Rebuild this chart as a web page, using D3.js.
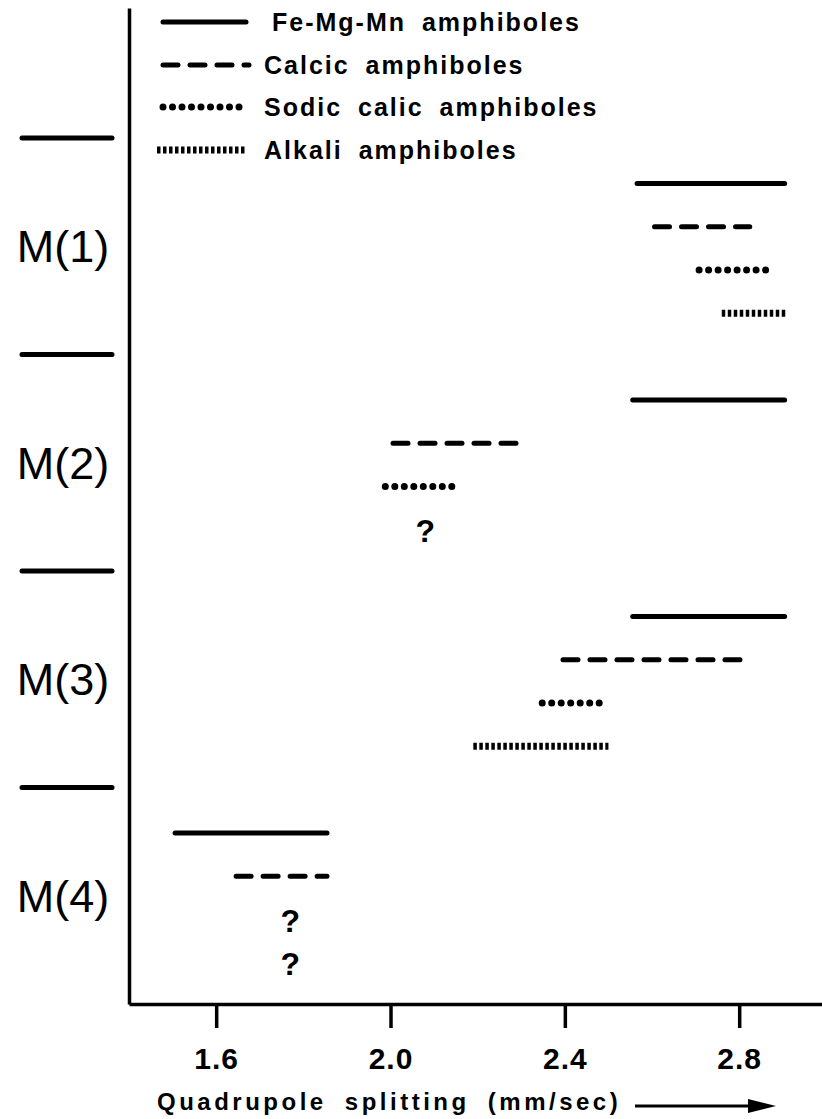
<!DOCTYPE html>
<html lang="en">
  <head>
    <meta charset="utf-8">
    <title>Amphibole quadrupole splitting</title>
    <script src="https://cdn.jsdelivr.net/npm/d3@7"></script>
    <style>
      body { margin: 0; background: #fff; }
      svg { display: block; background: #fff; }
      .axis path, .axis line { stroke: #000; stroke-width: 3.5; }
      .axis text { font-family: "Liberation Sans", Arial, sans-serif; font-weight: bold; font-size: 30px; fill: #000; letter-spacing: 1px; }
      .solid { stroke: #000; stroke-width: 5; stroke-linecap: round; fill: none; }
      .dashed { stroke: #000; stroke-width: 5; stroke-linecap: round; stroke-dasharray: 15 12; fill: none; }
      .dotted { stroke: #000; stroke-width: 7; stroke-linecap: round; stroke-dasharray: 0 9.5; fill: none; }
      .barred { stroke: #000; stroke-width: 7; stroke-linecap: butt; stroke-dasharray: 3.5 2.5; fill: none; }
      .legend text { font-family: "Liberation Sans", Arial, sans-serif; font-weight: bold; font-size: 25px; letter-spacing: 2px; word-spacing: 7px; }
      .site { font-family: "Liberation Sans", Arial, sans-serif; font-size: 45px; }
      .unknown { font-family: "Liberation Sans", Arial, sans-serif; font-weight: bold; font-size: 32px; }
    </style>
  </head>
  <body>
    <script>
      // sites and amphibole groups
      var sites = ["M(1)", "M(2)", "M(3)", "M(4)"];
      var groups = ["Fe-Mg-Mn amphiboles", "Calcic amphiboles", "Sodic calic amphiboles", "Alkali amphiboles"];
      var groupStyle = ["solid", "dashed", "dotted", "barred"];

      // quadrupole splitting ranges (mm/sec) per site, null = not known
      var feMgMn = [[2.56, 2.91], [2.55, 2.91], [2.55, 2.91], [1.50, 1.86]];
      var calcic = [[2.60, 2.83], [2.00, 2.30], [2.39, 2.82], [1.64, 1.86]];
      var sodicCalcic = [[2.70, 2.87], [1.98, 2.15], [2.34, 2.49], null];
      var alkali = [[2.76, 2.91], null, [2.19, 2.50], null];

      // question marks: [site, group, splitting]
      var unknowns = [[1, 3, 2.08], [3, 2, 1.77], [3, 3, 1.77]];

      var xTicks = [1.6, 2.0, 2.4, 2.8];

      var w = 822, h = 1119;

      var xScale = d3.scaleLinear()
                     .domain([1.4, 2.99])
                     .range([129, 822]);
      // y in "site units": site i spans [i, i+1]
      var yScale = d3.scaleLinear()
                     .domain([-0.6, 4])
                     .range([8, 1004]);
      var rowPos = function (site, g) { return site + 0.21 + 0.2 * g; };

      var svg = d3.select("body")
                  .append("svg")
                  .attr("width", w)
                  .attr("height", h);

      // axes
      var xAxis = d3.axisBottom(xScale)
                    .tickValues(xTicks)
                    .tickFormat(d3.format(".1f"))
                    .tickSize(24)
                    .tickSizeOuter(0)
                    .tickPadding(20);
      svg.append("g")
         .attr("class", "axis")
         .attr("transform", "translate(0," + yScale(4) + ")")
         .call(xAxis);

      var yAxis = d3.axisLeft(yScale)
                    .tickValues([])
                    .tickSizeOuter(0);
      svg.append("g")
         .attr("class", "axis")
         .attr("transform", "translate(" + xScale(1.4) + ",0)")
         .call(yAxis);

      // site separators and labels
      svg.selectAll(".sep")
         .data(d3.range(sites.length))
         .enter()
         .append("line")
         .attr("class", "solid sep")
         .attr("stroke-width", 3.5)
         .attr("x1", 22)
         .attr("x2", 112)
         .attr("y1", function (d) { return yScale(d); })
         .attr("y2", function (d) { return yScale(d); });

      svg.selectAll(".site")
         .data(sites)
         .enter()
         .append("text")
         .attr("class", "site")
         .attr("text-anchor", "middle")
         .attr("x", 63)
         .attr("y", function (d, i) { return yScale(i + 0.5) + 16; })
         .text(function (d) { return d; });

      // range segments
      var series = [feMgMn, calcic, sodicCalcic, alkali];
      var segs = [];
      series.forEach(function (s, g) {
        s.forEach(function (r, i) {
          if (r) segs.push({ g: g, site: i, lo: r[0], hi: r[1] });
        });
      });

      svg.selectAll(".seg")
         .data(segs)
         .enter()
         .append("line")
         .attr("class", function (d) { return "seg " + groupStyle[d.g]; })
         .attr("x1", function (d) { return xScale(d.lo) + (d.g == 2 ? 3.5 : d.g == 3 ? 0 : 2.5); })
         .attr("x2", function (d) { return xScale(d.hi) - (d.g == 2 ? 3.5 : d.g == 3 ? 0 : 2.5); })
         .attr("y1", function (d) { return yScale(rowPos(d.site, d.g)); })
         .attr("y2", function (d) { return yScale(rowPos(d.site, d.g)); });

      svg.selectAll(".unknown")
         .data(unknowns)
         .enter()
         .append("text")
         .attr("class", "unknown")
         .attr("text-anchor", "middle")
         .attr("x", function (d) { return xScale(d[2]); })
         .attr("y", function (d) { return yScale(rowPos(d[0], d[1])) + 12; })
         .text("?");

      // legend
      var legend = svg.append("g").attr("class", "legend");
      var legendY = [22, 65, 107, 150];
      groups.forEach(function (name, g) {
        legend.append("line")
              .attr("class", groupStyle[g])
              .attr("x1", g == 3 ? 157 : 163)
              .attr("x2", g == 1 ? 249 : 246)
              .attr("y1", legendY[g])
              .attr("y2", legendY[g])
              .attr("stroke-width", g == 2 ? 5 : g == 3 ? 6 : 4.5)
              .attr("stroke-linecap", g == 1 ? "butt" : null)
              .attr("stroke-dasharray", g == 1 ? "17 6" : g == 2 ? "0 8.4" : null);
        legend.append("text")
              .attr("x", g == 0 ? 272 : 264)
              .attr("y", legendY[g] + 9)
              .text(name);
      });

      // x axis title with arrow
      svg.append("text")
         .attr("x", 157)
         .attr("y", 1110)
         .attr("font-family", "Liberation Sans, Arial, sans-serif")
         .attr("font-weight", "bold")
         .attr("font-size", 24)
         .attr("letter-spacing", "3.5px")
         .attr("word-spacing", "8px")
         .text("Quadrupole splitting (mm/sec)");

      svg.append("line")
         .attr("x1", 635)
         .attr("x2", 752)
         .attr("y1", 1106)
         .attr("y2", 1106)
         .attr("stroke", "#000")
         .attr("stroke-width", 3);
      svg.append("path")
         .attr("d", "M748,1099L776,1106L748,1113Z")
         .attr("fill", "#000");
    </script>
  </body>
</html>
